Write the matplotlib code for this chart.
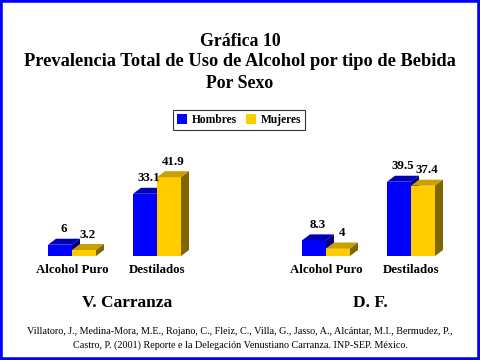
import matplotlib
matplotlib.use('Agg')
import matplotlib.pyplot as plt
from matplotlib.patches import Rectangle, Polygon, Patch

plt.rcParams['font.family'] = ['Liberation Serif', 'DejaVu Serif']

categorias = ['Alcohol Puro', 'Destilados']
series = ['Hombres', 'Mujeres']
carranza_h = [6, 33.1]
carranza_m = [3.2, 41.9]
df_h = [8.3, 39.5]
df_m = [4, 37.4]
paneles = ['V. Carranza', 'D. F.']

colores = {'Hombres': ('#0000FF', '#0000B8', '#000080'),
           'Mujeres': ('#FFCC00', '#C8A000', '#806600')}

fig = plt.figure(figsize=(4.8, 3.6), dpi=100)
W, H = 480, 360

# titulo
fig.text(0.5, 1 - 42 / H, 'Gráfica 10', ha='center', va='center', fontsize=12.8, fontweight='bold')
fig.text(0.5, 1 - 62 / H, 'Prevalencia Total de Uso de Alcohol por tipo de Bebida',
         ha='center', va='center', fontsize=13.2, fontweight='bold')
fig.text(0.5, 1 - 83 / H, 'Por Sexo', ha='center', va='center', fontsize=12.8, fontweight='bold')

PX_X = 85.0          # pixeles por categoria
PX_Y = 94 / 50.0     # pixeles por unidad
w = 24 / PX_X
dx = 8 / PX_X
dy = 6 / PX_Y


def barra3d(ax, x0, h, cols):
    front, top, side = cols
    ax.add_patch(Rectangle((x0, 0), w, h, facecolor=front, edgecolor='none', clip_on=False))
    ax.add_patch(Polygon([(x0, h), (x0 + dx, h + dy), (x0 + w + dx, h + dy), (x0 + w, h)],
                         closed=True, facecolor=top, edgecolor='none', clip_on=False))
    ax.add_patch(Polygon([(x0 + w, 0), (x0 + w + dx, dy), (x0 + w + dx, h + dy), (x0 + w, h)],
                         closed=True, facecolor=side, edgecolor='none', clip_on=False))


def panel(left_px, center0_px, hombres, mujeres, nombre, nombre_x):
    ax = fig.add_axes([left_px / W, 104 / H, 240 / W, 94 / H])
    ax.set_xlim(-(center0_px - left_px) / PX_X, (left_px + 240 - center0_px) / PX_X)
    ax.set_ylim(0, 50)
    for i in range(len(categorias)):
        for s, vals in enumerate([hombres, mujeres]):
            x0 = i - w + s * w
            barra3d(ax, x0, vals[i], colores[series[s]])
            ax.text(x0 + w / 2 + dx / 2, vals[i] + dy + 1.8, '{:g}'.format(vals[i]),
                    ha='center', va='bottom', fontsize=9.3, fontweight='bold')
    ax.set_xticks(range(len(categorias)))
    ax.set_xticklabels(categorias, fontsize=9.3, fontweight='bold')
    ax.tick_params(axis='x', length=0, pad=6)
    ax.set_yticks([])
    for sp in ax.spines.values():
        sp.set_visible(False)
    ax.patch.set_alpha(0)
    fig.text(nombre_x / W, 1 - 303 / H, nombre, ha='center', va='center',
             fontsize=12.5, fontweight='bold')


panel(0, 72, carranza_h, carranza_m, paneles[0], 127)
panel(240, 326, df_h, df_m, paneles[1], 370)

handles = [Patch(facecolor=colores[s][0], edgecolor='none', label=s) for s in series]
leg = fig.legend(handles=handles, loc='center', bbox_to_anchor=(239 / W, 1 - 120 / H), ncol=2,
                 frameon=True, fancybox=False, edgecolor='black', handlelength=0.9,
                 handleheight=0.9, handletextpad=0.4, columnspacing=0.8, borderpad=0.35,
                 prop={'weight': 'bold', 'size': 8.3})
leg.get_frame().set_linewidth(0.8)

fig.text(0.5, 1 - 331 / H,
         'Villatoro, J., Medina-Mora, M.E., Rojano, C., Fleiz, C., Villa, G., Jasso, A., Alcántar, M.I., Bermudez, P.,',
         ha='center', va='center', fontsize=7.3)
fig.text(0.5, 1 - 345 / H,
         'Castro, P. (2001) Reporte e la Delegación Venustiano Carranza. INP-SEP. México.',
         ha='center', va='center', fontsize=7.3)

fig.patches.append(Rectangle((0, 0), 1, 1, transform=fig.transFigure, fill=False,
                             edgecolor='#0000FF', linewidth=4, figure=fig))

fig.savefig('out.png', dpi=100)
